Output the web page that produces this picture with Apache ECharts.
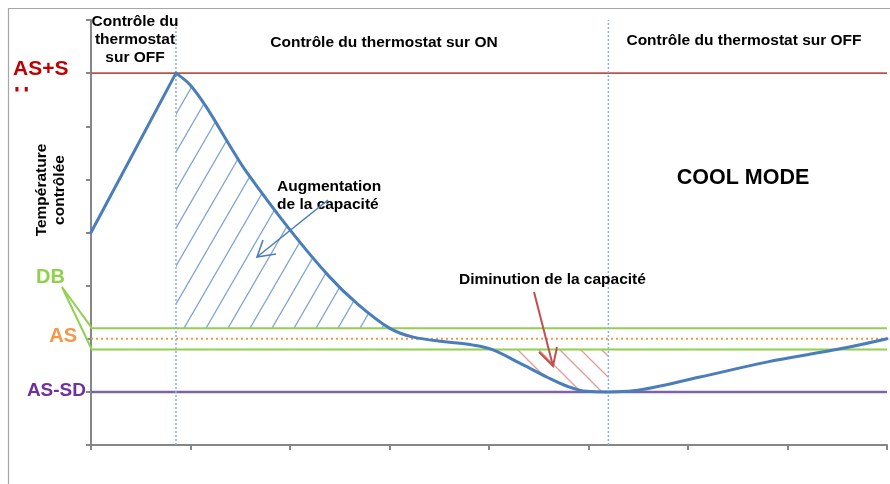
<!DOCTYPE html>
<html><head><meta charset="utf-8">
<script src="https://cdn.jsdelivr.net/npm/echarts@6/dist/echarts.min.js"></script>
<style>html,body{margin:0;padding:0;background:#fff}#c{width:890px;height:484px}</style>
</head><body><div id="c"></div>
<script>
// ---- data ----
const curveX = [0, 0.854, 0.995, 1.163, 1.40, 1.548, 2.0, 2.40, 2.67, 3.0, 3.24, 3.58, 3.84, 4.04, 4.31, 4.58, 4.78, 4.98, 5.2, 5.45, 6.12, 6.79, 7.53, 8.0];
const curveY = [4.0, 7.0, 6.78, 6.35, 5.62, 5.18, 4.05, 3.16, 2.67, 2.2, 2.03, 1.94, 1.88, 1.79, 1.54, 1.28, 1.11, 1.01, 1.0, 1.02, 1.28, 1.56, 1.81, 2.0];
const peakIndex = 1;
const levelNames = ['AS+SH', 'DB haut', 'AS', 'DB bas', 'AS-SD'];
const levelValues = [7, 2.2, 2.0, 1.8, 1.0];
const switchX = [0.854, 5.2];
const increaseRange = [0.854, 3.0];
const decreaseRange = [4.04, 5.2];
const axisMin = 0, axisMax = 8;

const FONT = '"Liberation Sans", Arial, sans-serif';
const SMOOTH = 0.35;

function hatch(w, h, color, dir) {
  const c = document.createElement('canvas');
  c.width = w; c.height = h;
  const g = c.getContext('2d');
  g.strokeStyle = color; g.lineWidth = 1.3;
  g.beginPath();
  for (let k = -1; k <= 1; k++) {
    const o = k * w;
    if (dir === '/') { g.moveTo(o - w, 2 * h); g.lineTo(o + 2 * w, -h); }
    else { g.moveTo(o - w, -h); g.lineTo(o + 2 * w, 2 * h); }
  }
  g.stroke();
  return c;
}

const curve = curveX.map((x, i) => [x, curveY[i]]);
const rise = curve.slice(0, peakIndex + 1);
const fall = curve.slice(peakIndex);
const inc = curve.filter(p => p[0] >= increaseRange[0] && p[0] <= increaseRange[1]);
const dec = curve.filter(p => p[0] >= decreaseRange[0] && p[0] <= decreaseRange[1]);

const levelStyles = [
  { color: '#C0504D', width: 1.6, type: 'solid' },
  { color: '#92D050', width: 2, type: 'solid' },
  { color: '#F79646', width: 2, type: [2, 3] },
  { color: '#92D050', width: 2, type: 'solid' },
  { color: '#8064A2', width: 2.5, type: 'solid' }
];

const series = [];
levelValues.forEach((v, i) => {
  series.push({
    type: 'line', name: levelNames[i], data: [[axisMin, v], [axisMax, v]],
    symbol: 'none', silent: true, z: 2, lineStyle: levelStyles[i]
  });
});
switchX.forEach(x => {
  series.push({
    type: 'line', data: [[x, axisMin], [x, axisMax]], symbol: 'none', silent: true, z: 3,
    lineStyle: { color: '#8EAFDB', width: 1.5, type: [2, 2] }
  });
});
series.push({
  type: 'line', data: inc, smooth: SMOOTH, symbol: 'none', z: 1,
  lineStyle: { width: 0 },
  areaStyle: { origin: levelValues[1], opacity: 1, color: { image: hatch(22, 38, '#7FA5D6', '/'), repeat: 'repeat' } }
});
series.push({
  type: 'line', data: dec, smooth: SMOOTH, symbol: 'none', z: 1,
  lineStyle: { width: 0 },
  areaStyle: { origin: levelValues[3], opacity: 1, color: { image: hatch(21, 21, '#E39A98', '\\'), repeat: 'repeat' } }
});
series.push({
  type: 'line', data: rise, smooth: false, symbol: 'none', z: 5,
  lineStyle: { color: '#4A7EBB', width: 3, join: 'round', cap: 'round' }
});
series.push({
  type: 'line', data: fall, smooth: SMOOTH, symbol: 'none', z: 5,
  lineStyle: { color: '#4A7EBB', width: 3, join: 'round', cap: 'round' }
});

function txt(x, y, text, size, color, align, extra) {
  return Object.assign({
    type: 'text', x: x, y: y, z: 20,
    style: { text: text, font: 'bold ' + size + 'px ' + FONT, fill: color, textAlign: align || 'center', textVerticalAlign: 'middle', lineHeight: Math.round(size * 1.15) }
  }, extra || {});
}

const graphic = [
  { type: 'line', z: 1, shape: { x1: 8, y1: 8.5, x2: 890, y2: 8.5 }, style: { stroke: '#A6A6A6', lineWidth: 1.2 } },
  { type: 'line', z: 1, shape: { x1: 8.5, y1: 8, x2: 8.5, y2: 484 }, style: { stroke: '#A6A6A6', lineWidth: 1.2 } },
  txt(13, 69, 'AS+S', 21, '#C00000', 'left'),
  txt(14, 95, 'H', 21, '#C00000', 'left'),
  { type: 'rect', z: 25, shape: { x: 10, y: 91.5, width: 40, height: 20 }, style: { fill: '#fff' } },
  txt(50.5, 277, 'DB', 20, '#92D050'),
  txt(77, 336, 'AS', 20, '#F79646', 'right'),
  txt(86, 391, 'AS-SD', 19, '#7030A0', 'right'),
  { type: 'polyline', z: 4, shape: { points: [[91.5, 327.7], [62, 287], [91.5, 349]] }, style: { stroke: '#92D050', lineWidth: 2, fill: null } },
  txt(51, 190, 'Température\ncontrôlée', 15.5, '#000', 'center', { rotation: Math.PI / 2 }),
  txt(135, 40, 'Contrôle du\nthermostat\nsur OFF', 15.5, '#000'),
  txt(384, 43, 'Contrôle du thermostat sur ON', 15.5, '#000'),
  txt(744, 41, 'Contrôle du thermostat sur OFF', 15.5, '#000'),
  txt(743, 178, 'COOL MODE', 21.5, '#000'),
  txt(277, 196, 'Augmentation\nde la capacité', 15.5, '#000', 'left'),
  txt(459, 280, 'Diminution de la capacité', 15.5, '#000', 'left'),
  { type: 'line', z: 21, shape: { x1: 328, y1: 200, x2: 257, y2: 257 }, style: { stroke: '#4A7EBB', lineWidth: 1.6 } },
  { type: 'polyline', z: 21, shape: { points: [[263, 240], [257, 257], [276, 254]] }, style: { stroke: '#4A7EBB', lineWidth: 1.6, fill: null } },
  { type: 'line', z: 21, shape: { x1: 534, y1: 292, x2: 553, y2: 366 }, style: { stroke: '#C0504D', lineWidth: 2 } },
  { type: 'polyline', z: 21, shape: { points: [[539, 352], [553, 366], [557, 347]] }, style: { stroke: '#C0504D', lineWidth: 2, fill: null } }
];

const chart = echarts.init(document.getElementById('c'), null, { renderer: 'canvas' });
chart.setOption({
  animation: false,
  backgroundColor: '#fff',
  grid: { left: 91, right: 3, top: 20, bottom: 39, containLabel: false },
  xAxis: {
    type: 'value', min: axisMin, max: axisMax, interval: 1,
    axisLine: { show: true, onZero: false, lineStyle: { color: '#868686', width: 2 } },
    axisTick: { show: true, length: 5, lineStyle: { color: '#868686', width: 2 } },
    axisLabel: { show: false }, splitLine: { show: false }
  },
  yAxis: {
    type: 'value', min: axisMin, max: axisMax, interval: 1,
    axisLine: { show: true, onZero: false, lineStyle: { color: '#868686', width: 2 } },
    axisTick: { show: true, length: 5, lineStyle: { color: '#868686', width: 2 } },
    axisLabel: { show: false }, splitLine: { show: false }
  },
  series: series,
  graphic: graphic
});
</script>
</body></html>
